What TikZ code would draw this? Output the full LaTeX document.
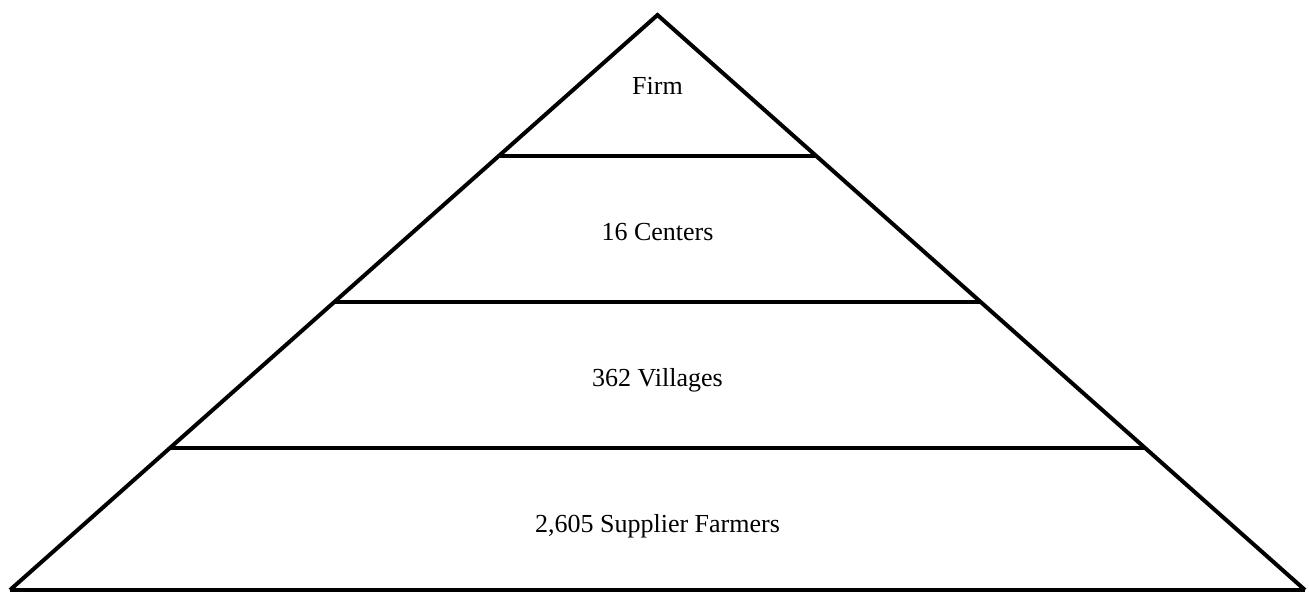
\documentclass[tikz,border=0pt]{standalone}
\usepackage{fontspec}
\setmainfont{Liberation Serif}
\usetikzlibrary{calc}
\begin{document}
\begin{tikzpicture}[x=1pt,y=-1pt,
  edge/.style={line width=4pt,line cap=butt,line join=miter},
  tier/.style={font=\fontsize{26}{30}\selectfont,inner sep=0pt,anchor=base}]
  \useasboundingbox (0,0) rectangle (1309,592);
  % corners of the pyramid
  \coordinate (apex) at (657.5,15);
  \coordinate (bl) at (10,590);
  \coordinate (br) at (1305,590);
  % outline
  \draw[edge] (bl) -- (apex) -- (br);
  \draw[edge] (bl) -- (br);
  % tier separators
  \foreach \t/\n in {0.2452/a,0.4991/b,0.7530/c}{
    \coordinate (l\n) at ($(apex)!\t!(bl)$);
    \coordinate (r\n) at ($(apex)!\t!(br)$);
    \draw[edge] (l\n) -- (r\n);
  }
  % tier labels (placed by baseline)
  \node[tier] (firm) at (657.5,94) {Firm};
  \node[tier] (centers) at (657.5,240) {16 Centers};
  \node[tier] (villages) at (657.5,386) {362 Villages};
  \node[tier] (farmers) at (657.5,532) {2,605 Supplier Farmers};
\end{tikzpicture}
\end{document}
